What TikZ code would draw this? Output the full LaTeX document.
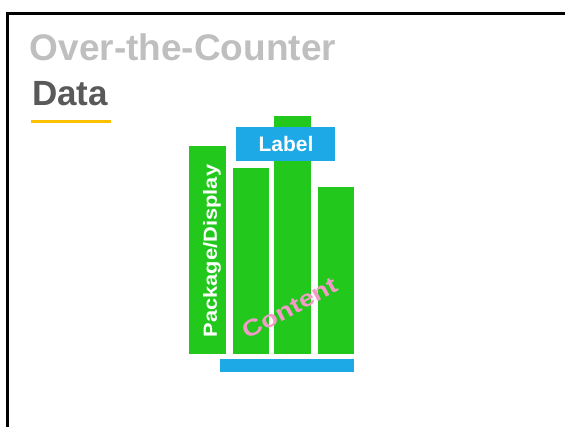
\documentclass[tikz,border=0pt]{standalone}
\usepackage{fontspec}
\setmainfont{Liberation Sans}
\usepackage{graphicx}
\definecolor{titlegrey}{HTML}{BFBFBF}
\definecolor{datagrey}{HTML}{595959}
\definecolor{accent}{HTML}{FFC000}
\definecolor{bargreen}{HTML}{22C81C}
\definecolor{barblue}{HTML}{1CA9E6}
\definecolor{textpink}{HTML}{F49AC8}
\begin{document}
\begin{tikzpicture}[x=1pt,y=-1pt,
  bar/.style={fill=bargreen,draw=none},
  bluebox/.style={fill=barblue,draw=none},
  lbl/.style={inner sep=0pt,font=\bfseries}]
\useasboundingbox (0,0) rectangle (565,427);
% frame
\draw[line width=3pt] (7.5,427) -- (7.5,13.5) -- (565,13.5);
% title
\node[lbl,anchor=base west,text=titlegrey,font=\bfseries\fontsize{37}{40}\selectfont] (t1) at (29.5,60.5) {Over-the-Counter};
\node[lbl,anchor=base west,text=datagrey,font=\bfseries\fontsize{35}{40}\selectfont] (t2) at (32,105.5) {Data};
\fill[accent] (31,120) rectangle (111,123.3);
% bars
\fill[bar] (189,146) rectangle (226,354);
\fill[bar] (232.7,168) rectangle (269,354);
\fill[bar] (274,116) rectangle (311,354);
\fill[bar] (318,187) rectangle (354,354);
\fill[bluebox] (236,127) rectangle (335,161);
\fill[bluebox] (220,359) rectangle (354,372);
% labels
\node[lbl,anchor=base,text=white,font=\bfseries\fontsize{21}{24}\selectfont] (lab) at (286,151.7) {Label};
\node[lbl,rotate=90,text=white,font=\bfseries\fontsize{19}{22}\selectfont] (pkg) at (212,251) {\scalebox{1.15}[1]{Package/Display}};
\node[lbl,rotate=28,text=textpink,font=\bfseries\fontsize{23}{26}\selectfont] (cont) at (290,308) {\scalebox{1.2}[1]{Content}};
\end{tikzpicture}
\end{document}
